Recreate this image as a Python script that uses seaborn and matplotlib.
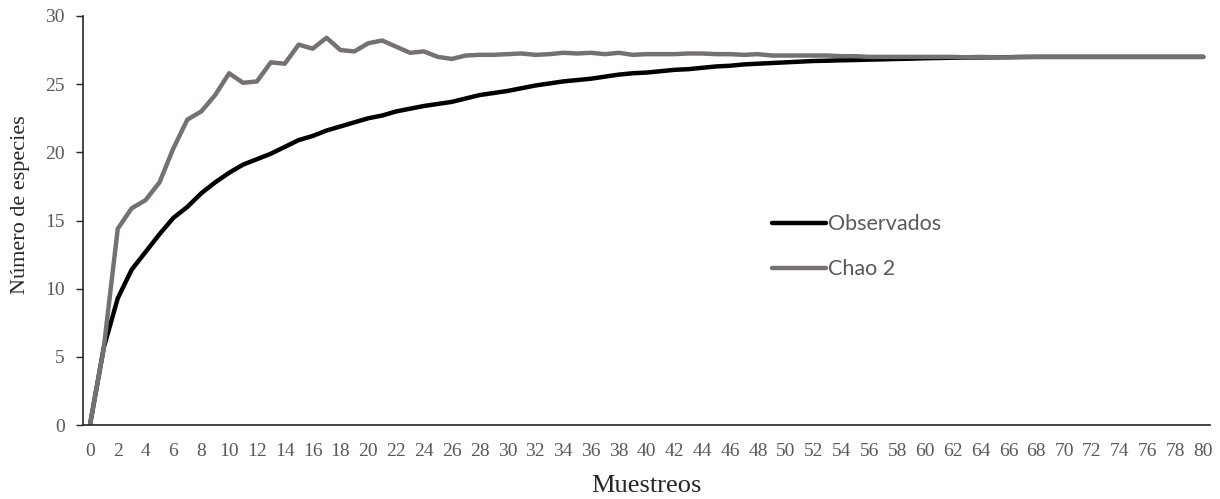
import numpy as np
import pandas as pd
import seaborn as sns
import matplotlib.pyplot as plt
from matplotlib.lines import Line2D

# Muestreos 0..80
muestreos = list(range(0, 81))

observados = [0, 5.7, 9.3, 11.4, 12.7, 14.0, 15.2, 16.0, 17.0, 17.8, 18.5,
              19.1, 19.5, 19.9, 20.4, 20.9, 21.2, 21.6, 21.9, 22.2, 22.5,
              22.7, 23.0, 23.2, 23.4, 23.55, 23.7, 23.95, 24.2, 24.35, 24.5,
              24.7, 24.9, 25.05, 25.2, 25.3, 25.4, 25.55, 25.7, 25.8, 25.85,
              25.95, 26.05, 26.1, 26.2, 26.3, 26.35, 26.45, 26.5, 26.55, 26.6,
              26.65, 26.7, 26.72, 26.75, 26.77, 26.8, 26.82, 26.85, 26.87, 26.9,
              26.92, 26.94, 26.95, 26.96, 26.97, 26.98, 26.99, 27.0, 27.0, 27.0,
              27.0, 27.0, 27.0, 27.0, 27.0, 27.0, 27.0, 27.0, 27.0, 27.0]

chao2 = [0, 5.7, 14.4, 15.9, 16.5, 17.8, 20.3, 22.4, 23.0, 24.2, 25.8,
         25.1, 25.2, 26.6, 26.5, 27.9, 27.6, 28.4, 27.5, 27.4, 28.0,
         28.2, 27.75, 27.3, 27.4, 27.0, 26.85, 27.1, 27.15, 27.15, 27.2,
         27.25, 27.15, 27.2, 27.3, 27.25, 27.3, 27.2, 27.3, 27.15, 27.2,
         27.2, 27.2, 27.25, 27.25, 27.2, 27.2, 27.15, 27.2, 27.1, 27.1,
         27.1, 27.1, 27.1, 27.05, 27.05, 27.0, 27.0, 27.0, 27.0, 27.0,
         27.0, 27.0, 26.97, 27.0, 26.97, 26.97, 27.0, 27.0, 27.0, 27.0,
         27.0, 27.0, 27.0, 27.0, 27.0, 27.0, 27.0, 27.0, 27.0, 27.0]

df = pd.DataFrame({"Muestreos": muestreos, "Observados": observados, "Chao 2": chao2})

sns.set_style("white")
plt.rcParams['font.family'] = ['Liberation Serif', 'DejaVu Serif']

fig = plt.figure(figsize=(12.2, 4.99), dpi=100)
ax = fig.add_axes([0.068, 0.148, 0.924, 0.820])

black = "#000000"
grey = "#767171"
txt = "#595959"

sns.lineplot(data=df, x="Muestreos", y="Observados", color=black, linewidth=3.2, ax=ax)
sns.lineplot(data=df, x="Muestreos", y="Chao 2", color=grey, linewidth=3.2, ax=ax)

ax.set_xlim(-0.5, 80.5)
ax.set_ylim(0, 30)
ax.set_xticks(range(0, 81, 2))
ax.set_yticks(range(0, 31, 5))
ax.tick_params(axis='x', length=0, pad=13, labelsize=14, labelcolor=txt)
ax.tick_params(axis='y', length=5, width=1, direction='out', left=True, pad=8,
               labelsize=14, labelcolor=txt, color="#262626")
for s in ["top", "right"]:
    ax.spines[s].set_visible(False)
for s in ["left", "bottom"]:
    ax.spines[s].set_color("#262626")
    ax.spines[s].set_linewidth(1.2)

ax.set_xlabel("Muestreos", fontsize=19)
ax.xaxis.set_label_coords(0.5, -0.122)
ax.set_ylabel("Número de especies", fontsize=16)
ax.yaxis.set_label_coords(-0.047, 0.538)

handles = [Line2D([], [], color=black, linewidth=3.2),
           Line2D([], [], color=grey, linewidth=3.2)]
leg = ax.legend(handles, ["Observados", "Chao 2"], loc="center left",
                bbox_to_anchor=(0.611, 0.436), frameon=False, handlelength=2.5,
                handletextpad=0.1, labelspacing=1.15, borderpad=0, borderaxespad=0,
                prop={"family": "Lato", "size": 15.5})
for t in leg.get_texts():
    t.set_color(txt)

fig.savefig("out.png", dpi=100)
